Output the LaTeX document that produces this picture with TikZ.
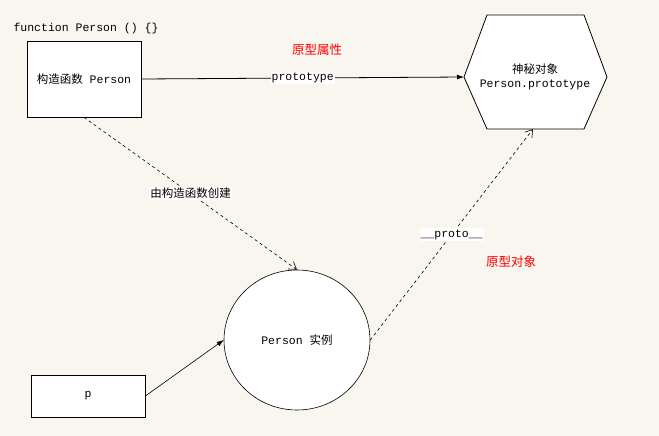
\documentclass[tikz,border=0pt]{standalone}
\usepackage{fontspec}
\setmainfont{Liberation Mono}
\newfontfamily\cjk{Noto Sans CJK SC}
\usepackage{xcolor}
\usepackage{tikz}
\usetikzlibrary{arrows.meta,shapes.geometric}
\definecolor{paper}{HTML}{F9F6F0}

\begin{document}
\begin{tikzpicture}[x=1pt,y=-1pt,font=\fontsize{11.5}{14}\selectfont,
  box/.style={draw=black,fill=white,line width=0.8pt,minimum width=114pt},
  lbl/.style={fill=white,inner sep=1pt},
  note/.style={text=red},
  dashy/.style={dash pattern=on 3pt off 3pt,line width=0.6pt},
  opentip/.style={-{Straight Barb[length=7pt,width=9pt]}},
  filltip/.style={-{Latex[length=7pt,width=5pt]}}]
\useasboundingbox[fill=paper] (0,0) rectangle (659,436);

\node[anchor=west] (F) at (10,29) {function Person () \{\}};

\node[box,minimum height=76pt] (ctor) at (84,79) {{\cjk 构造函数} Person};
\node[box,minimum height=42pt] (p) at (88,396) {p};

% hexagon for Person.prototype
\draw[fill=white,line width=0.8pt] (464,77) -- (487,15) -- (584,15) -- (607,77) -- (584,129) -- (487,129) -- cycle;
\coordinate (hexW) at (464,77);
\coordinate (hexS) at (533,129);
\node[align=center] (proto) at (535,77) {{\cjk 神秘对象}\\Person.prototype};

\node[draw=black,fill=white,ellipse,line width=0.6pt,minimum width=146pt,minimum height=140pt] (inst) at (297,340) {Person {\cjk 实例}};

\path[filltip,line width=0.8pt] (ctor.east) edge node[lbl] {prototype} (hexW);
\path[dashy,opentip] (ctor.south) edge node[lbl] {\cjk 由构造函数创建} (inst.north);
\path[dashy,opentip] (inst.east) edge node[lbl] {\_\_proto\_\_} (hexS);
\path[filltip,line width=0.6pt] (p.east) edge (inst.west);

\node[note] (n1) at (317,50) {\cjk\fontsize{12.5}{14}\selectfont 原型属性};
\node[note] (n2) at (511,262) {\cjk\fontsize{12.5}{14}\selectfont 原型对象};

\end{tikzpicture}
\end{document}
